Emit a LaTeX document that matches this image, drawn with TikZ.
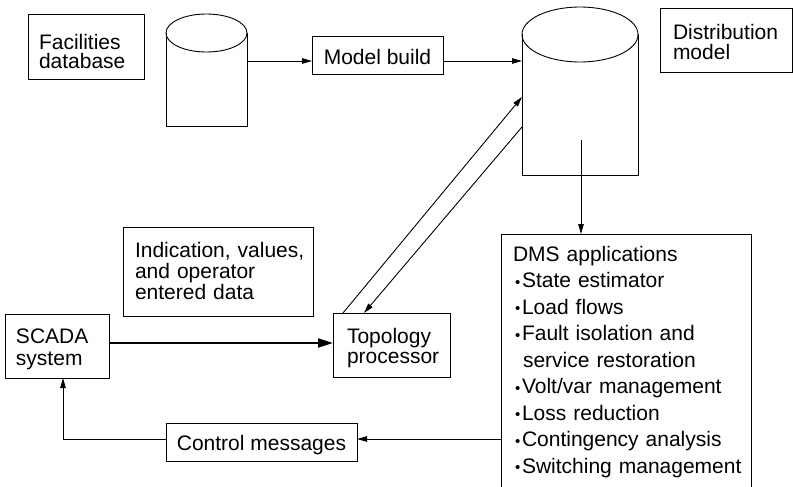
\documentclass[tikz,border=0pt]{standalone}
\usepackage{fontspec}
\setmainfont{Liberation Sans}
\usetikzlibrary{arrows.meta}
\newcommand\fsz[2]{\fontsize{#1}{#2}\selectfont}
\newcommand\bulit{\makebox[7pt][l]{\raisebox{0.3pt}{\fsz{15}{15}•}}}
\begin{document}
\begin{tikzpicture}[x=1pt,y=-1pt,
  every node/.style={inner ysep=0pt, outer sep=0pt},
  box/.style={draw, line width=0.9pt, rectangle, anchor=north west},
  arr/.style={line width=0.9pt, -{Triangle[length=10pt,width=5.5pt]}},
  bigarr/.style={line width=2pt, -{Triangle[length=15pt,width=9pt]}},
  cyl/.style={line width=0.9pt}]
\useasboundingbox (0,0) rectangle (793,487);
\clip (0,0) rectangle (793,487);

% boxes
\node[box, align=left, minimum width=116pt, minimum height=65pt, inner xsep=11pt, text width=94pt,
  text height=25.4pt, text depth=19pt, font=\fsz{21}{19}] (fac) at (28,14.3)
  {\mbox{Facilities}\\\mbox{database}};
\node[box, minimum width=131pt, minimum height=37.3pt, text height=19.2pt, text depth=0pt,
  font=\fsz{21}{21}] (mb) at (312,36.7) {Model build};
\node[box, align=left, minimum width=132pt, minimum height=64.4pt, inner xsep=13pt, text width=106pt,
  text height=18.3pt, text depth=20.7pt, font=\fsz{21}{20.7}] (dist) at (660,8.3)
  {\mbox{Distribution}\\\mbox{model}};
\node[box, align=left, minimum width=190pt, minimum height=89pt, inner xsep=12pt, text width=166pt,
  text height=14.2pt, text depth=42.6pt, font=\fsz{21}{21.3}] (ind) at (123,227)
  {\mbox{Indication, values,}\\\mbox{and operator}\\\mbox{entered data}};
\node[box, align=left, minimum width=104pt, minimum height=64pt, inner xsep=11pt, text width=82pt,
  text height=16.3pt, text depth=21.7pt, font=\fsz{21}{21.7}] (scada) at (5,314)
  {\mbox{SCADA}\\\mbox{system}};
\node[box, align=left, minimum width=117pt, minimum height=64pt, inner xsep=14pt, text width=89pt,
  text height=16.6pt, text depth=20pt, font=\fsz{21}{20}] (topo) at (333,313)
  {\mbox{Topology}\\\mbox{processor}};
\node[box, minimum width=191pt, minimum height=38pt, text height=17.4pt, text depth=0pt,
  font=\fsz{21}{21}] (ctrl) at (166,423) {Control messages};
\node[box, align=left, minimum width=250pt, minimum height=254pt, inner xsep=12pt, text width=226pt,
  text height=12pt, text depth=212pt, font=\fsz{21}{26.5}] (dms) at (501,234)
  {\mbox{DMS applications}\\
   \mbox{\hspace*{2pt}\bulit State estimator}\\
   \mbox{\hspace*{2pt}\bulit Load flows}\\
   \mbox{\hspace*{2pt}\bulit Fault isolation and}\\
   \mbox{\hspace*{10pt}service restoration}\\
   \mbox{\hspace*{2pt}\bulit Volt/var management}\\
   \mbox{\hspace*{2pt}\bulit Loss reduction}\\
   \mbox{\hspace*{2pt}\bulit Contingency analysis}\\
   \mbox{\hspace*{2pt}\bulit Switching management}};

% cylinders
\node[minimum width=81pt, minimum height=93pt, anchor=north west, inner sep=0pt] (db1) at (166,33) {};
\draw[cyl] (db1.north west) -- (db1.south west) -- (db1.south east) -- (db1.north east);
\draw[cyl] (db1.north) ellipse [x radius=40.5pt, y radius=19pt];
\node[minimum width=116pt, minimum height=140.5pt, anchor=north west, inner sep=0pt] (db2) at (522,34.5) {};
\draw[cyl] (db2.north west) -- (db2.south west) -- (db2.south east) -- (db2.north east);
\draw[cyl] (db2.north) ellipse [x radius=58pt, y radius=27.5pt];

% helper coordinates
\coordinate (yA) at (0,61);
\coordinate (yB) at (0,97);
\coordinate (yC) at (0,127);
\coordinate (yD) at (0,343);
\coordinate (yE) at (0,439);
\coordinate (xL) at (63,0);
\coordinate (dstart) at (581,140);

% connectors
\draw[arr] (db1.east |- yA) -- (mb.west |- yA);
\draw[arr] (mb.east |- yA) -- (db2.west |- yA);
\draw[arr] ([xshift=10pt]topo.north west) -- (db2.west |- yB);
\draw[arr] (db2.west |- yC) -- ([xshift=31pt]topo.north west);
\draw[arr] (dstart) -- (dstart |- dms.north);
\draw[bigarr] (scada.east |- yD) -- (topo.west |- yD);
\draw[arr] (dms.west |- yE) -- (ctrl.east |- yE);
\draw[arr] (ctrl.west |- yE) -| (xL |- scada.south);
\end{tikzpicture}
\end{document}
